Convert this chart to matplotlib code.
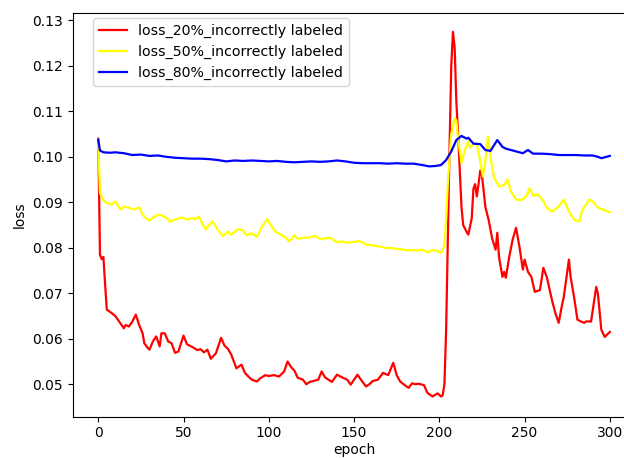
import matplotlib
matplotlib.use("Agg")
import matplotlib.pyplot as plt

# loss curves (epoch, loss)
epochs_20 = [0, 1, 2, 3, 4, 5, 8, 10, 13, 15, 16, 18, 20, 22, 24, 26, 27, 29, 30,
             32, 34, 36, 37, 39, 41, 43, 45, 47, 50, 52, 54, 56, 58, 60, 62, 64,
             66, 69, 72, 74, 76, 78, 81, 84, 86, 88, 90, 93, 95, 98, 100, 103,
             106, 109, 111, 113, 115, 117, 120, 122, 124, 127, 129, 131, 133,
             135, 137, 140, 143, 146, 148, 150, 152, 154, 157, 159, 161, 164,
             167, 170, 173, 175, 177, 179, 182, 184, 186, 188, 191, 193, 196,
             199, 201, 202, 203, 204, 205, 206, 207, 208, 209, 210, 211, 212,
             213, 214, 216, 217, 219, 220, 221, 222, 223, 224, 225, 226, 227,
             229, 231, 233, 234, 235, 237, 238, 239, 241, 243, 245, 247, 249,
             250, 252, 254, 256, 259, 261, 263, 266, 268, 270, 272, 273, 276,
             277, 279, 281, 283, 285, 286, 289, 292, 293, 295, 297, 300]
loss_20 = [0.104, 0.0785, 0.0775, 0.078, 0.072, 0.0664, 0.0656, 0.065, 0.0634,
           0.0623, 0.063, 0.0627, 0.0638, 0.0653, 0.063, 0.0612, 0.059, 0.058,
           0.0576, 0.0594, 0.0605, 0.0583, 0.0612, 0.0612, 0.0594, 0.059,
           0.0569, 0.0572, 0.0607, 0.0588, 0.0584, 0.058, 0.0575, 0.0577,
           0.057, 0.0576, 0.0556, 0.0568, 0.0602, 0.0585, 0.0578, 0.0565,
           0.0535, 0.0543, 0.0525, 0.0517, 0.051, 0.0506, 0.0513, 0.052,
           0.0518, 0.052, 0.0517, 0.0528, 0.055, 0.0538, 0.053, 0.0514, 0.051,
           0.05, 0.0505, 0.0508, 0.051, 0.0528, 0.0515, 0.051, 0.0505, 0.0521,
           0.0515, 0.051, 0.0499, 0.051, 0.0521, 0.051, 0.0495, 0.05, 0.0507,
           0.051, 0.0525, 0.052, 0.0547, 0.052, 0.0506, 0.05, 0.0492, 0.0502,
           0.05, 0.0501, 0.0498, 0.0481, 0.0473, 0.048, 0.0473, 0.0476, 0.05,
           0.062, 0.082, 0.102, 0.12, 0.1275, 0.124, 0.112, 0.105, 0.097,
           0.089, 0.085, 0.0835, 0.0829, 0.0865, 0.093, 0.094, 0.0913, 0.094,
           0.097, 0.096, 0.0925, 0.089, 0.086, 0.082, 0.0796, 0.0833, 0.078,
           0.0736, 0.0747, 0.0734, 0.078, 0.0818, 0.0844, 0.0802, 0.0752,
           0.0774, 0.0747, 0.0736, 0.0703, 0.0707, 0.0756, 0.0736, 0.0686,
           0.0657, 0.0635, 0.0675, 0.0692, 0.0774, 0.0736, 0.0692, 0.0642,
           0.0638, 0.0635, 0.0638, 0.0638, 0.0714, 0.0699, 0.062, 0.0604,
           0.0615]

epochs_50 = [0, 1, 3, 5, 8, 10, 13, 15, 18, 21, 24, 26, 28, 30, 33, 36, 40, 42,
             46, 49, 52, 55, 57, 59, 61, 63, 65, 67, 69, 71, 73, 76, 78, 82, 85,
             87, 90, 93, 96, 99, 101, 104, 107, 110, 112, 115, 117, 121, 124,
             127, 130, 132, 136, 140, 143, 146, 150, 153, 157, 160, 163, 166,
             169, 172, 175, 178, 181, 184, 187, 190, 193, 196, 199, 201, 203,
             204, 205, 206, 207, 209, 210, 211, 213, 215, 217, 218, 220, 222,
             224, 225.5, 227, 228.5, 230, 232, 235, 238, 240, 242, 245, 248,
             251, 253, 255, 258, 261, 263, 266, 268, 270, 273, 276, 279, 282,
             284, 288, 290, 293, 296, 300]
loss_50 = [0.103, 0.092, 0.0905, 0.0898, 0.0896, 0.0902, 0.0884, 0.0891,
           0.0888, 0.0884, 0.0889, 0.0873, 0.0865, 0.086, 0.0869, 0.0873,
           0.0866, 0.0858, 0.0863, 0.0867, 0.0862, 0.0865, 0.0863, 0.0869,
           0.0853, 0.0841, 0.085, 0.0858, 0.0846, 0.0835, 0.0826, 0.0835,
           0.0829, 0.0841, 0.0838, 0.0827, 0.0832, 0.0824, 0.0846, 0.0863,
           0.0851, 0.0835, 0.0829, 0.0822, 0.0814, 0.0827, 0.082, 0.0822,
           0.0823, 0.0826, 0.082, 0.082, 0.0822, 0.0812, 0.0814, 0.0811,
           0.0813, 0.0815, 0.0807, 0.0806, 0.0804, 0.0802, 0.0799, 0.08,
           0.0797, 0.0797, 0.0794, 0.0795, 0.0794, 0.0796, 0.079, 0.0795,
           0.0793, 0.0788, 0.0805, 0.0865, 0.094, 0.1, 0.105, 0.1085, 0.108,
           0.104, 0.0987, 0.1015, 0.1035, 0.102, 0.1028, 0.103, 0.099, 0.0957,
           0.099, 0.1045, 0.1, 0.0955, 0.0935, 0.0938, 0.095, 0.0924, 0.0906,
           0.0905, 0.0913, 0.0931, 0.0915, 0.0917, 0.0903, 0.0888, 0.088,
           0.0884, 0.0891, 0.0906, 0.088, 0.0862, 0.0858, 0.0884, 0.0906,
           0.0902, 0.0888, 0.0884, 0.0878]

epochs_80 = [0, 1, 3, 7, 10, 15, 20, 25, 30, 35, 40, 45, 50, 55, 60, 65, 70,
             75, 80, 85, 90, 95, 100, 105, 110, 115, 120, 125, 130, 135, 140,
             145, 150, 155, 160, 165, 170, 175, 180, 185, 190, 194, 198, 201,
             204, 207, 210, 213, 216, 217, 220, 224, 227, 230, 232, 234, 235,
             237, 239, 243, 246, 249, 252, 255, 260, 265, 270, 275, 280, 285,
             290, 293, 295, 298, 300]
loss_80 = [0.1037, 0.1014, 0.101, 0.1009, 0.101, 0.1008, 0.1004, 0.1005,
           0.1002, 0.1003, 0.1, 0.0998, 0.0997, 0.0996, 0.0996, 0.0995,
           0.0993, 0.099, 0.0992, 0.0991, 0.0992, 0.0991, 0.099, 0.0991,
           0.0989, 0.0988, 0.0989, 0.099, 0.0989, 0.099, 0.0992, 0.099,
           0.0987, 0.0986, 0.0986, 0.0986, 0.0985, 0.0986, 0.0985, 0.0985,
           0.0982, 0.0979, 0.098, 0.0982, 0.0993, 0.1012, 0.1037, 0.1046,
           0.104, 0.1042, 0.1029, 0.1028, 0.1015, 0.1013, 0.1025, 0.1037,
           0.1032, 0.1022, 0.1018, 0.1014, 0.1011, 0.1008, 0.1015, 0.1007,
           0.1007, 0.1006, 0.1004, 0.1004, 0.1004, 0.1003, 0.1003, 0.1,
           0.0997, 0.1, 0.1002]

fig = plt.figure(figsize=(6.24, 4.58), dpi=100)
# the reference is cropped on the right and bottom, so the axes run past the edge
ax = fig.add_axes([0.1165, 0.0906, 0.9018, 0.8817])

ax.plot(epochs_20, loss_20, color='red', linewidth=1.6,
        label='loss_20%_incorrectly labeled')
ax.plot(epochs_50, loss_50, color='yellow', linewidth=1.6,
        label='loss_50%_incorrectly labeled')
ax.plot(epochs_80, loss_80, color='blue', linewidth=1.6,
        label='loss_80%_incorrectly labeled')

ax.set_xlim(-15, 315)
ax.set_ylim(0.0429, 0.1317)
ax.set_xticks([0, 50, 100, 150, 200, 250, 300])
ax.set_yticks([0.05, 0.06, 0.07, 0.08, 0.09, 0.10, 0.11, 0.12, 0.13])
ax.spines['right'].set_visible(False)
ax.tick_params(labelsize=10)
ax.set_xlabel('epoch', fontsize=10, labelpad=2)
ax.set_ylabel('loss', fontsize=10)
ax.legend(loc='upper left', bbox_to_anchor=(0.036, 0.987), borderaxespad=0,
          fontsize=10.2)

fig.savefig('out.png', dpi=100)
